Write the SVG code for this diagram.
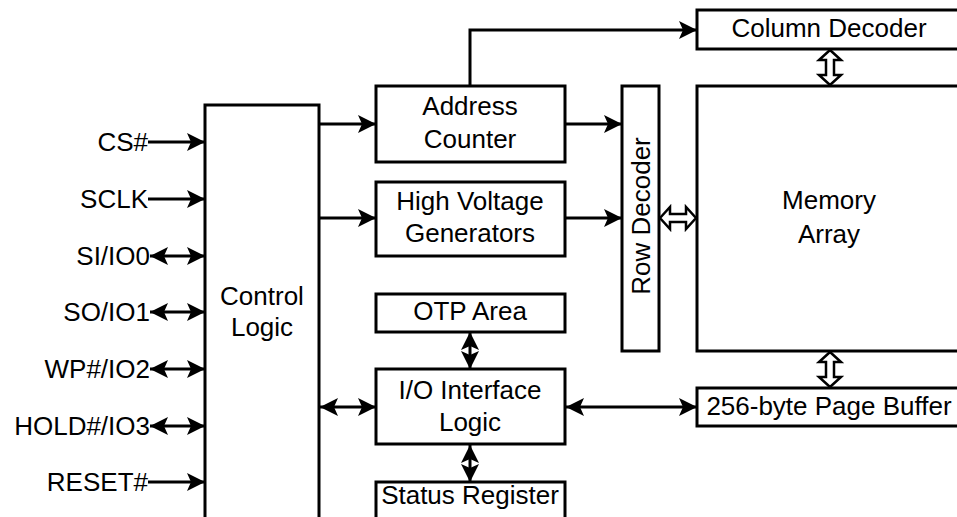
<svg xmlns="http://www.w3.org/2000/svg" width="957" height="517" viewBox="0 0 957 517">
<defs>
<style>
.box{fill:#fff;stroke:#000;stroke-width:3}
.t{font-family:"Liberation Sans",Arial,sans-serif;font-size:26px;fill:#000;text-anchor:middle}
.r{text-anchor:end}
.c{fill:none;stroke:#000;stroke-width:3}
.h{fill:#fff;stroke:#000;stroke-width:2.5;stroke-linejoin:miter}
</style>
<marker id="ah" markerUnits="userSpaceOnUse" markerWidth="19" markerHeight="18" refX="18" refY="9" orient="auto-start-reverse">
<path d="M0,0 L18,9 L0,18 L4,9 Z" fill="#000"/>
</marker>
</defs>
<g id="connectors">
<line class="c" x1="148" y1="142" x2="205" y2="142" marker-end="url(#ah)"/>
<line class="c" x1="148" y1="199" x2="205" y2="199" marker-end="url(#ah)"/>
<line class="c" x1="150" y1="256" x2="205" y2="256" marker-start="url(#ah)" marker-end="url(#ah)"/>
<line class="c" x1="150" y1="312" x2="205" y2="312" marker-start="url(#ah)" marker-end="url(#ah)"/>
<line class="c" x1="150" y1="369" x2="205" y2="369" marker-start="url(#ah)" marker-end="url(#ah)"/>
<line class="c" x1="150" y1="426" x2="205" y2="426" marker-start="url(#ah)" marker-end="url(#ah)"/>
<line class="c" x1="148" y1="482" x2="205" y2="482" marker-end="url(#ah)"/>
<line class="c" x1="319" y1="124" x2="376" y2="124" marker-end="url(#ah)"/>
<line class="c" x1="319" y1="218" x2="376" y2="218" marker-end="url(#ah)"/>
<line class="c" x1="320" y1="407" x2="376" y2="407" marker-start="url(#ah)" marker-end="url(#ah)"/>
<line class="c" x1="565" y1="124" x2="622" y2="124" marker-end="url(#ah)"/>
<line class="c" x1="565" y1="218" x2="622" y2="218" marker-end="url(#ah)"/>
<polyline class="c" points="470,86 470,30 697,30" marker-end="url(#ah)"/>
<line class="c" x1="566" y1="407" x2="697" y2="407" marker-start="url(#ah)" marker-end="url(#ah)"/>
<line class="c" x1="470" y1="332" x2="470" y2="369" marker-start="url(#ah)" marker-end="url(#ah)"/>
<line class="c" x1="470" y1="445" x2="470" y2="482" marker-start="url(#ah)" marker-end="url(#ah)"/>
<polygon class="h" points="660,218 670,207 670,214 686,214 686,207 696,218 686,229 686,222 670,222 670,229"/>
<polygon class="h" points="830,50 841,60 834,60 834,75 841,75 830,85 819,75 826,75 826,60 819,60"/>
<polygon class="h" points="830,352 841,362 834,362 834,377 841,377 830,387 819,377 826,377 826,362 819,362"/>
</g>
<g id="pins">
<text class="t r" x="148" y="151">CS#</text>
<text class="t r" x="148" y="208">SCLK</text>
<text class="t r" x="150" y="265">SI/IO0</text>
<text class="t r" x="150" y="321">SO/IO1</text>
<text class="t r" x="150" y="378">WP#/IO2</text>
<text class="t r" x="150" y="435">HOLD#/IO3</text>
<text class="t r" x="148" y="491">RESET#</text>
</g>
<g id="control-logic">
<rect class="box" x="205" y="105" width="114" height="420"/>
<text class="t" x="262" y="305">Control</text>
<text class="t" x="262" y="336">Logic</text>
</g>
<g id="address-counter">
<rect class="box" x="376" y="86" width="189" height="76"/>
<text class="t" x="470" y="115">Address</text>
<text class="t" x="470" y="148">Counter</text>
</g>
<g id="high-voltage">
<rect class="box" x="376" y="182" width="189" height="74"/>
<text class="t" x="470" y="210">High Voltage</text>
<text class="t" x="470" y="242">Generators</text>
</g>
<g id="otp-area">
<rect class="box" x="376" y="294" width="189" height="38"/>
<text class="t" x="470" y="320">OTP Area</text>
</g>
<g id="io-interface">
<rect class="box" x="376" y="369" width="189" height="75"/>
<text class="t" x="470" y="399">I/O Interface</text>
<text class="t" x="470" y="431">Logic</text>
</g>
<g id="status-register">
<rect class="box" x="376" y="482" width="189" height="45"/>
<text class="t" x="470" y="504">Status Register</text>
</g>
<g id="row-decoder">
<rect class="box" x="622" y="86" width="37" height="265"/>
<text class="t" transform="translate(650,216) rotate(-90)" x="0" y="0">Row Decoder</text>
</g>
<g id="column-decoder">
<rect class="box" x="697" y="10" width="270" height="39"/>
<text class="t" x="829" y="37">Column Decoder</text>
</g>
<g id="memory-array">
<rect class="box" x="697" y="86" width="270" height="265"/>
<text class="t" x="829" y="209">Memory</text>
<text class="t" x="829" y="243">Array</text>
</g>
<g id="page-buffer">
<rect class="box" x="697" y="388" width="270" height="38"/>
<text class="t" x="829" y="415">256-byte Page Buffer</text>
</g>
</svg>
